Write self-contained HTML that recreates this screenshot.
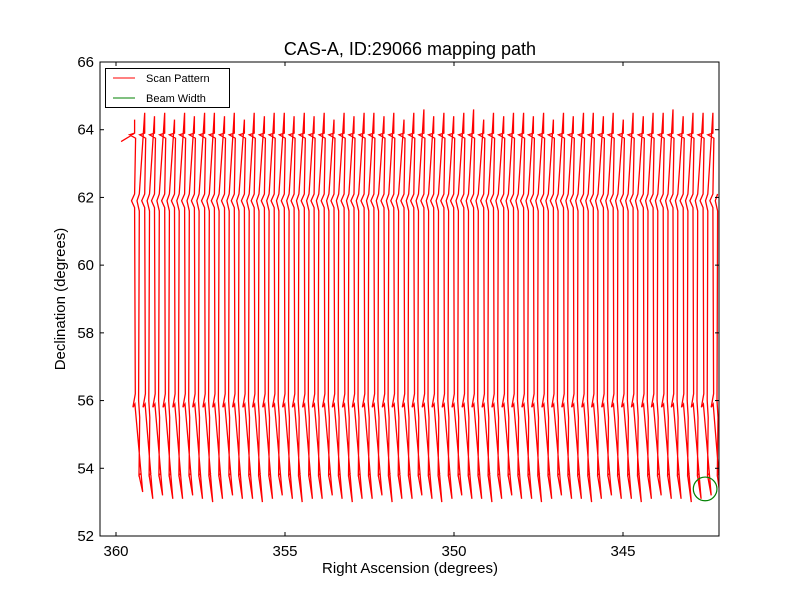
<!DOCTYPE html>
<html><head><meta charset="utf-8"><style>
body{margin:0;background:#fff}
svg{display:block;font-family:"Liberation Sans","DejaVu Sans",sans-serif}
</style></head><body>
<svg id="chart" width="800" height="600">
<rect width="800" height="600" fill="#fff"/>
<text x="410" y="55" text-anchor="middle" font-size="18">CAS-A, ID:29066 mapping path</text>
<text x="410" y="573" text-anchor="middle" font-size="15">Right Ascension (degrees)</text>
<text x="65" y="299" text-anchor="middle" font-size="15" transform="rotate(-90 65 299)">Declination (degrees)</text>
<defs><clipPath id="pc"><rect x="100" y="62" width="619" height="474"/></clipPath></defs>
<g id="plot" clip-path="url(#pc)"></g>
<rect x="100" y="62" width="619" height="474" fill="none" stroke="#000" stroke-width="1"/>
<g id="ticks"></g>
<g>
<rect x="105.5" y="68.5" width="124" height="39" fill="#fff" stroke="#000"/>
<line x1="113" y1="78" x2="135" y2="78" stroke="red"/>
<text x="146" y="82" font-size="11">Scan Pattern</text>
<line x1="113" y1="98" x2="135" y2="98" stroke="green"/>
<text x="146" y="102" font-size="11">Beam Width</text>
</g>
</svg>
<script>
const raCols=[359.45,359.15,358.86,358.56,358.27,357.97,357.68,357.38,357.09,356.79,356.50,356.20,355.91,355.61,355.32,355.02,354.73,354.43,354.14,353.84,353.55,353.25,352.96,352.66,352.37,352.07,351.78,351.48,351.19,350.89,350.60,350.30,350.01,349.71,349.42,349.12,348.83,348.53,348.24,347.94,347.65,347.35,347.06,346.76,346.47,346.17,345.88,345.58,345.29,344.99,344.70,344.40,344.11,343.81,343.52,343.22,342.93,342.63,342.34];
const topDec=[64.3,64.5,64.4,64.5,64.3,64.5,64.4,64.5,64.5,64.4,64.5,64.3,64.5,64.4,64.5,64.5,64.4,64.5,64.4,64.5,64.3,64.5,64.4,64.5,64.5,64.4,64.5,64.3,64.5,64.6,64.4,64.5,64.4,64.5,64.6,64.3,64.5,64.4,64.5,64.5,64.4,64.5,64.3,64.5,64.4,64.5,64.5,64.4,64.5,64.3,64.5,64.4,64.5,64.5,64.6,64.4,64.5,64.5,64.5];
const botDec=[53.3,53.1,53.2,53.1,53.1,53.2,53.1,53.0,53.1,53.2,53.1,53.1,53.0,53.1,53.2,53.1,53.0,53.1,53.1,53.2,53.1,53.0,53.1,53.1,53.2,53.0,53.1,53.1,53.2,53.1,53.0,53.1,53.2,53.1,53.1,53.0,53.1,53.2,53.1,53.1,53.0,53.1,53.2,53.1,53.1,53.0,53.1,53.2,53.1,53.1,53.0,53.1,53.2,53.1,53.1,53.0,53.1,53.2,53.0];
const xTicks=[360,355,350,345];
const yTicks=[52,54,56,58,60,62,64,66];
const beam={ra:342.57,dec:53.39,r:0.35};
const X=ra=>116+(360-ra)*33.8;
const Y=d=>62+(66-d)*33.857;
const NS='http://www.w3.org/2000/svg';
const plot=document.getElementById('plot');
let pts=[[X(359.85),Y(63.65)],[X(359.6),Y(63.8)],[X(raCols[0]),Y(63.9)]];
for(let i=0;i<raCols.length;i++){
  const a=raCols[i];
  pts.push([X(a),Y(topDec[i])]);
  pts.push([X(a),Y(63.9)]);
  pts.push([X(a+0.15),Y(63.85)]);
  pts.push([X(a-0.03),Y(63.75)]);
  pts.push([X(a),Y(62.1)]);
  pts.push([X(a+0.09),Y(61.9)]);
  pts.push([X(a),Y(61.7)]);
  pts.push([X(a-0.02),Y(56.2)]);
  pts.push([X(a+0.05),Y(55.8)]);
  pts.push([X(a-0.01),Y(55.9)]);
  pts.push([X(a-0.24),Y(botDec[i])]);
  pts.push([X(a-0.13),Y(53.8)]);
  pts.push([X(a-0.19),Y(53.85)]);
  pts.push([X(a-0.13),Y(53.8)]);
  pts.push([X(a-0.15),Y(55.5)]);
  pts.push([X(a-0.12),Y(56.0)]);
  pts.push([X(a-0.14),Y(61.6)]);
  pts.push([X(a-0.07),Y(61.9)]);
  pts.push([X(a-0.14),Y(62.1)]);
  if(i+1<raCols.length) pts.push([X(raCols[i+1]),Y(topDec[i+1])]);
}
const pl=document.createElementNS(NS,'polyline');
pl.setAttribute('points',pts.map(p=>p[0].toFixed(1)+','+p[1].toFixed(1)).join(' '));
pl.setAttribute('fill','none');pl.setAttribute('stroke','red');pl.setAttribute('stroke-width','1.3');


plot.appendChild(pl);
const c=document.createElementNS(NS,'ellipse');
c.setAttribute('cx',X(beam.ra));c.setAttribute('cy',Y(beam.dec));
c.setAttribute('rx',beam.r*33.8);c.setAttribute('ry',beam.r*33.857);
c.setAttribute('fill','none');c.setAttribute('stroke','green');c.setAttribute('stroke-width','1.2');


plot.appendChild(c);
const tg=document.getElementById('ticks');
function add(tag,attrs,txt){const e=document.createElementNS(NS,tag);for(const k in attrs)e.setAttribute(k,attrs[k]);if(txt!==undefined)e.textContent=txt;tg.appendChild(e);return e;}
xTicks.forEach(v=>{const x=X(v);
  let l=add('line',{x1:x,y1:536,x2:x,y2:532,stroke:'#000'});
  
  
  l=add('line',{x1:x,y1:62,x2:x,y2:66,stroke:'#000'});
  
  
  const t=add('text',{x:x,y:556,'text-anchor':'middle','font-size':15},String(v));
  
  
});
yTicks.forEach(v=>{const y=Y(v);
  let l=add('line',{x1:100,y1:y,x2:104,y2:y,stroke:'#000'});
  
  
  l=add('line',{x1:719,y1:y,x2:715,y2:y,stroke:'#000'});
  
  
  const t=add('text',{x:94,y:y+5,'text-anchor':'end','font-size':15},String(v));
  
  
});
</script>
</body></html>
